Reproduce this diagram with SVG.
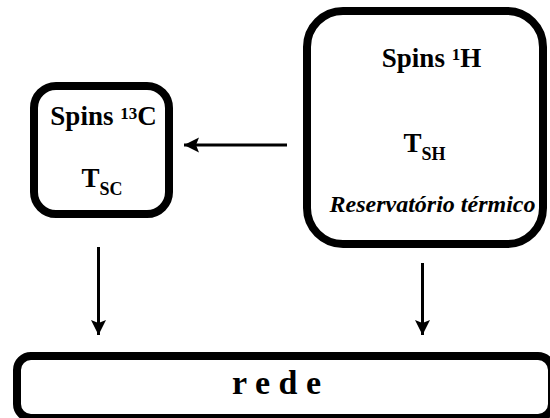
<svg xmlns="http://www.w3.org/2000/svg" width="550" height="418" viewBox="0 0 550 418">
<style>
.box{fill:#fff;stroke:#000;stroke-width:8}
text{font-family:'Liberation Serif','Times New Roman',serif;font-weight:bold;fill:#000;text-anchor:middle}
.c{stroke:#000;stroke-width:3;fill:none}
</style>
<defs>
<marker id="ah" markerWidth="16" markerHeight="16" refX="15" refY="7.5" orient="auto" markerUnits="userSpaceOnUse"><path d="M0,0 L15,7.5 L0,15 L3,7.5 Z" fill="#000"/></marker>
</defs>
<g id="c13">
<rect class="box" x="34" y="86" width="135" height="128" rx="22"/>
<text x="103.5" y="125" font-size="27">Spins <tspan font-size="17" dy="-6">13</tspan><tspan dy="6">C</tspan></text>
<text x="102" y="187" font-size="27">T<tspan font-size="18" dy="8">SC</tspan></text>
</g>
<g id="h1">
<rect class="box" x="307" y="11" width="236" height="233" rx="36"/>
<text x="431.5" y="67" font-size="27">Spins <tspan font-size="17" dy="-7">1</tspan><tspan dy="7">H</tspan></text>
<text x="424.5" y="152" font-size="27">T<tspan font-size="18" dy="8">SH</tspan></text>
<text x="432.5" y="212" font-size="24" font-style="italic">Reservatório térmico</text>
</g>
<g id="rede">
<rect class="box" x="17" y="356" width="535" height="62" rx="14"/>
<text x="276.5" y="394" font-size="34">r e d e</text>
</g>
<g id="connectors">
<line class="c" x1="287" y1="145" x2="184" y2="145" marker-end="url(#ah)"/>
<line class="c" x1="98.5" y1="247" x2="98.5" y2="335" marker-end="url(#ah)"/>
<line class="c" x1="422.5" y1="263" x2="422.5" y2="335" marker-end="url(#ah)"/>
</g>
</svg>
